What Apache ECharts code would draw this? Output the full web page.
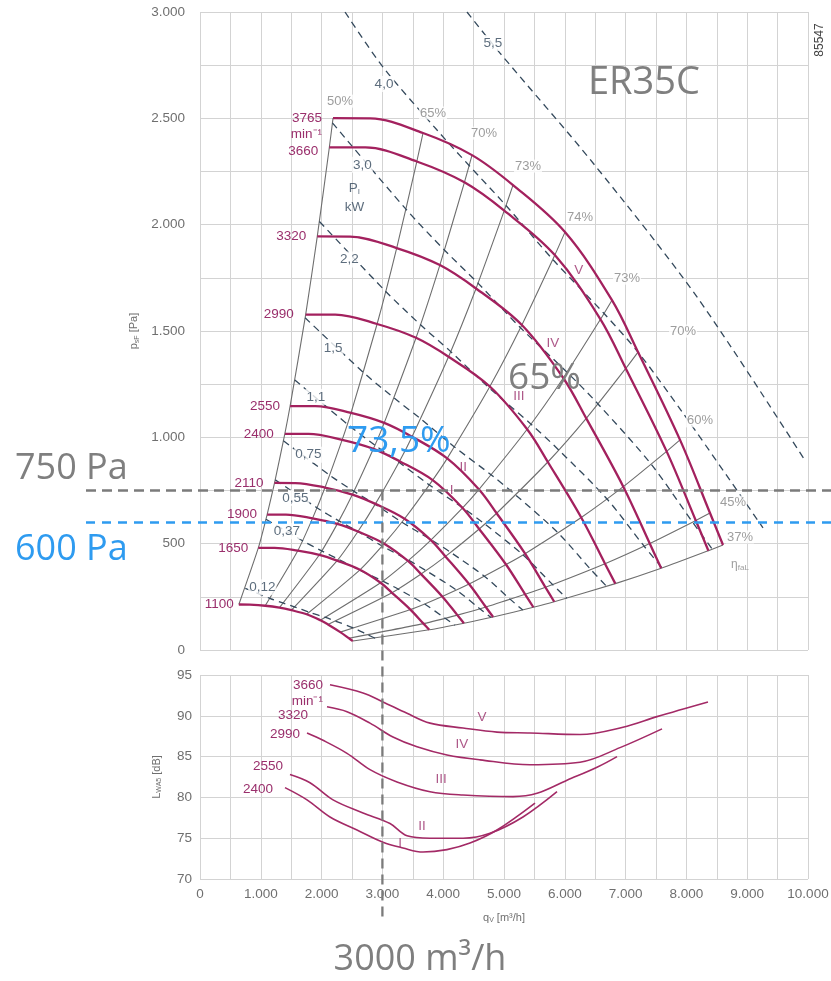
<!DOCTYPE html>
<html>
<head>
<meta charset="utf-8">
<script src="https://cdn.jsdelivr.net/npm/echarts@6/dist/echarts.min.js"></script>
<style>
  html, body { margin: 0; padding: 0; background: #ffffff; }
  #chart { width: 831px; height: 981px; }
</style>
</head>
<body>
<div id="chart"></div>
<script>
// ---- Fan ER35C: pressure/volume characteristic and sound power ----

// Speeds of the pressure curves [min^-1]
const speeds = [3765, 3660, 3320, 2990, 2550, 2400, 2110, 1900, 1650, 1100];

// Static pressure curves [q_V m³/h, p_sF Pa], one array per speed
const psf3765 = [[2188,2501],[2800,2500],[3668,2431],[4474,2327],[5148,2186],[6003,1965],[6776,1645],[7204,1401],[7895,988],[8388,644],[8602,494]];
const psf3660 = [[2127,2363],[2722,2363],[3566,2297],[4349,2199],[5004,2066],[5836,1857],[6587,1555],[7003,1324],[7675,934],[8154,609],[8362,467]];
const psf3320 = [[1929,1945],[2469,1944],[3235,1890],[3945,1810],[4540,1700],[5294,1528],[5975,1279],[6353,1089],[6962,768],[7397,501],[7585,384]];
const psf2990 = [[1738,1577],[2224,1577],[2913,1533],[3553,1468],[4088,1379],[4767,1239],[5381,1038],[5721,884],[6270,623],[6661,406],[6831,312]];
const psf2550 = [[1482,1147],[1896,1147],[2484,1115],[3030,1068],[3487,1003],[4066,901],[4589,755],[4879,643],[5347,453],[5681,295],[5826,227]];
const psf2400 = [[1395,1016],[1785,1016],[2338,988],[2852,946],[3282,888],[3827,799],[4319,668],[4592,569],[5033,402],[5347,262],[5483,201]];
const psf2110 = [[1226,786],[1569,785],[2056,764],[2507,731],[2885,687],[3364,617],[3797,517],[4037,440],[4425,310],[4701,202],[4821,155]];
const psf1900 = [[1104,637],[1413,637],[1851,619],[2258,593],[2598,557],[3029,500],[3420,419],[3636,357],[3984,252],[4233,164],[4341,126]];
const psf1650 = [[959,480],[1227,480],[1608,467],[1961,447],[2256,420],[2631,377],[2970,316],[3157,269],[3460,190],[3676,124],[3770,95]];
const psf1100 = [[639,214],[818,213],[1072,208],[1307,199],[1504,187],[1754,168],[1980,140],[2105,120],[2307,84],[2451,55],[2513,42]];
const pressureCurves = [psf3765, psf3660, psf3320, psf2990, psf2550, psf2400, psf2110, psf1900, psf1650, psf1100];

// Efficiency lines join the same operating point on every speed curve
const effLabels = ['50%', '65%', '70%', '73%', '74%', '73%', '70%', '60%', '45%', '37%'];
const effPointIndex = [0, 2, 3, 4, 5, 6, 7, 8, 9, 10];

// Lines of constant input power P_I [kW]
const pw550 = [[4391,3000],[4934,2807],[6464,2290],[8174,1660],[9967,884]];
const pw400 = [[2385,3000],[3010,2741],[3898,2445],[4426,2278],[5033,2090],[5803,1836],[6646,1582],[7204,1401],[7944,1114],[9260,574]];
const pw300 = [[2178,2479],[3387,2073],[4022,1880],[4572,1725],[5272,1515],[6037,1306],[6546,1157],[7422,873],[8101,601],[8427,474]];
const pw220 = [[1964,2015],[3055,1686],[3627,1529],[4124,1403],[4754,1233],[5445,1062],[5902,940],[6694,710],[7305,488],[7601,386]];
const pw150 = [[1729,1562],[2688,1305],[3192,1185],[3629,1087],[4184,955],[4792,823],[5195,728],[5891,550],[6429,378],[6689,299]];
const pw110 = [[1559,1270],[2424,1062],[2879,963],[3273,883],[3773,776],[4321,669],[4685,592],[5313,447],[5798,308],[6032,243]];
const pw075 = [[1372,984],[2133,822],[2534,746],[2881,685],[3321,601],[3803,518],[4124,459],[4676,347],[5103,238],[5309,188]];
const pw055 = [[1238,800],[1924,669],[2285,607],[2598,557],[2995,489],[3431,422],[3719,373],[4217,282],[4602,194],[4788,153]];
const pw037 = [[1085,615],[1686,514],[2002,466],[2276,427],[2625,376],[3006,324],[3258,287],[3695,216],[4032,149],[4195,117]];
const pw012 = [[745,290],[1158,242],[1375,220],[1564,202],[1803,177],[2065,153],[2238,135],[2538,102],[2770,70],[2883,55]];
const powerLabels = ['5,5', '4,0', '3,0', '2,2', '1,5', '1,1', '0,75', '0,55', '0,37', '0,12'];
const powerLines = [pw550, pw400, pw300, pw220, pw150, pw110, pw075, pw055, pw037, pw012];

// Installation curves I..V
const romanSpeeds = [3660, 3320, 2990, 2550, 2400];
const romanLabels = ['V', 'IV', 'III', 'II', 'I'];

// Sound power level L_WA5 [q_V m³/h, dB]
const lwa3660 = [[2138,93.8],[2681,92.8],[3010,91.7],[3405,90.3],[3783,89.1],[4326,88.5],[4885,88.0],[5428,87.9],[6250,87.7],[6957,88.6],[7516,89.9],[8355,91.7]];
const lwa3320 = [[2089,91.1],[2418,90.5],[2796,89.1],[3174,87.4],[3569,86.2],[4062,85.2],[4605,84.6],[5428,84.0],[6250,84.3],[6908,86.1],[7599,88.4]];
const lwa2990 = [[1760,87.9],[2023,87.0],[2418,85.4],[2796,83.4],[3240,81.9],[3783,80.7],[4326,80.3],[5148,80.1],[5543,80.5],[6036,82.1],[6530,83.7],[6859,85.0]];
const lwa2550 = [[1480,82.8],[1809,81.8],[2188,79.7],[2681,78.1],[3125,76.8],[3405,75.3],[3783,75.0],[4326,75.0],[4770,75.6],[5312,77.6],[5872,80.7]];
const lwa2400 = [[1398,81.2],[1760,79.7],[2138,77.6],[2582,76.0],[3010,74.5],[3339,73.8],[3668,73.3],[4062,73.6],[4441,74.4],[4885,76.0],[5510,79.3]];
const soundCurves = [lwa3660, lwa3320, lwa2990, lwa2550, lwa2400];

// Tick values
const xTicks = [0, 1000, 2000, 3000, 4000, 5000, 6000, 7000, 8000, 9000, 10000];
const pTicks = [0, 500, 1000, 1500, 2000, 2500, 3000];
const lTicks = [70, 75, 80, 85, 90, 95];

// Marked operating point
const dutyFlow = 3000;
const dutyPressures = [750, 600];
const dutyEfficiency = '73,5%';
const curveEfficiency = '65%';
const fanType = 'ER35C';
const drawingNo = '85547';

// ---------------------------------------------------------------
const MAGENTA = '#a3215e';
const MAGENTA_TXT = '#9a2f6c';
const GREY_LINE = '#6e6e6e';
const POWER = '#34495c';
const SANS = '"Liberation Sans", Arial, sans-serif';
const BIG = '"Open Sans", sans-serif';

const fmt = v => v < 1000 ? String(v) : Math.floor(v / 1000) + '.' + String(v % 1000).padStart(3, '0');

const series = [];

// constant efficiency lines
effPointIndex.forEach((idx, k) => {
  series.push({
    type: 'line', xAxisIndex: 0, yAxisIndex: 0, silent: true,
    data: pressureCurves.map(c => c[idx]),
    symbol: 'none', smooth: 0.2,
    lineStyle: { color: GREY_LINE, width: 1.1 }, z: 2
  });
});

// constant power lines
powerLines.forEach(pl => {
  series.push({
    type: 'line', xAxisIndex: 0, yAxisIndex: 0, silent: true,
    data: pl, symbol: 'none', smooth: 0.3,
    lineStyle: { color: POWER, width: 1.3, type: [7, 5] }, z: 3
  });
});

// pressure curves
const speedLabelDist = [11, 11, 11, 12, 10, 11, 11, 10, 10, 5];
pressureCurves.forEach((c, i) => {
  const first = speeds[i] === 3765;
  series.push({
    type: 'line', xAxisIndex: 0, yAxisIndex: 0, silent: true,
    data: c.map((pt, j) => j === 0 ? {
      value: pt,
      label: {
        show: true, position: 'left', distance: speedLabelDist[i],
        formatter: first ? speeds[i] + '\nmin⁻¹' : String(speeds[i]),
        offset: first ? [0, 8] : (speeds[i] === 3660 ? [0, 4] : [0, 0]),
        align: 'right', lineHeight: 16,
        color: MAGENTA_TXT, fontFamily: SANS, fontSize: 13.5
      }
    } : pt),
    symbol: 'circle', symbolSize: 0, showSymbol: true,
    smooth: 0.35,
    lineStyle: { color: MAGENTA, width: 2.3 }, z: 5
  });
});

// text annotations of the upper chart (anchored on the curves, shifted in px)
const effLabelOffset = [[7,-17],[10,-20],[12,-22],[15,-19],[15,-15],[15,-22],[45,-21],[20,-19],[23,-11],[17,-8]];
const powerLabelOffset = [[26,31],[39,72],[30,42],[30,38],[28,30],[21,17],[25,14],[20,18],[21,12],[17,-1]];
const romanOffset = [[24,15],[31,18],[29,10],[16,9],[19,10]];

const annot = [];
effPointIndex.forEach((idx, k) => {
  annot.push({ value: psf3765[idx], label: {
    formatter: effLabels[k], offset: effLabelOffset[k], color: '#858585', fontSize: 13,
    backgroundColor: '#ffffff', padding: [0, 1] } });
});
annot.push({ value: psf3765[10], label: {
  formatter: '{e|η}{s|faL}', offset: [17, 20], color: '#858585', fontSize: 12,
  rich: { e: { fontSize: 12, color: '#858585', fontFamily: SANS }, s: { fontSize: 8, color: '#858585', fontFamily: SANS, padding: [6, 0, 0, 0] } } } });
powerLines.forEach((pl, k) => {
  annot.push({ value: pl[0], label: {
    formatter: powerLabels[k], offset: powerLabelOffset[k], color: POWER, fontSize: 13.5,
    backgroundColor: '#ffffff', padding: [1, 1] } });
});
annot.push({ value: pw300[0], label: { formatter: '{p|P}{s|I}', offset: [22, 65], color: POWER,
  rich: { p: { fontSize: 13.5, color: POWER, fontFamily: SANS }, s: { fontSize: 8, color: POWER, fontFamily: SANS, padding: [7, 0, 0, 0] } } } });
annot.push({ value: pw300[0], label: { formatter: 'kW', offset: [22, 84], color: POWER, fontSize: 13.5 } });
romanSpeeds.forEach((s, k) => {
  const c = pressureCurves[speeds.indexOf(s)];
  annot.push({ value: c[5], label: { formatter: romanLabels[k], offset: romanOffset[k], color: MAGENTA_TXT, fontSize: 13.5 } });
});

series.push({
  type: 'scatter', xAxisIndex: 0, yAxisIndex: 0, silent: true,
  symbolSize: 0, data: annot, z: 8,
  label: { show: true, position: 'inside', align: 'center', verticalAlign: 'middle', fontFamily: SANS }
});

// sound power curves
const soundLabelOffset = [[0, 8], [-12, 8], [0, 1], [0, -8], [-5, 2]];
const soundRomanAnchor = [6, 5, 5, 6, 5];
const soundRomanOffset = [[-15,-15],[15,-11],[11,-12],[-8,-12],[-3,-5]];
soundCurves.forEach((c, i) => {
  series.push({
    type: 'line', xAxisIndex: 1, yAxisIndex: 1, silent: true,
    data: c.map((pt, j) => j === 0 ? {
      value: pt,
      label: {
        show: true, position: 'left', distance: 7,
        formatter: i === 0 ? romanSpeeds[i] + '\nmin⁻¹' : String(romanSpeeds[i]),
        offset: soundLabelOffset[i], align: 'right', lineHeight: 16,
        color: MAGENTA_TXT, fontFamily: SANS, fontSize: 13.5
      }
    } : pt),
    symbol: 'circle', symbolSize: 0, showSymbol: true,
    smooth: 0.35,
    lineStyle: { color: '#a32a66', width: 1.6 }, z: 5
  });
});
series.push({
  type: 'scatter', xAxisIndex: 1, yAxisIndex: 1, silent: true, symbolSize: 0, z: 8,
  data: soundCurves.map((c, i) => ({ value: c[soundRomanAnchor[i]], label: { formatter: romanLabels[i], offset: soundRomanOffset[i] } })),
  label: { show: true, position: 'inside', align: 'center', verticalAlign: 'middle', fontFamily: SANS, fontSize: 13.5, color: MAGENTA_TXT }
});

const axisCommon = {
  type: 'value',
  axisLine: { show: false }, axisTick: { show: false },
  splitLine: { lineStyle: { color: '#d3d3d3', width: 1 } }
};
const tickStyle = { color: '#6f6f6f', fontFamily: SANS, fontSize: 13.5 };
const nameStyle = { color: '#6f6f6f', fontFamily: SANS, fontSize: 11 };

const option = {
  animation: false,
  backgroundColor: '#ffffff',
  grid: [
    { left: 200, right: 23, top: 12, height: 638, outerBoundsMode: 'none', containLabel: false },
    { left: 200, right: 23, top: 675, height: 204, outerBoundsMode: 'none', containLabel: false }
  ],
  xAxis: [
    Object.assign({}, axisCommon, { gridIndex: 0, min: 0, max: 10000, interval: 500, axisLabel: { show: false } }),
    Object.assign({}, axisCommon, { gridIndex: 1, min: 0, max: 10000, interval: 500,
      axisLabel: Object.assign({ margin: 8, formatter: v => xTicks.includes(v) ? fmt(v) : '' }, tickStyle),
      name: '{q|q}{s|V} [m³/h]', nameLocation: 'middle', nameGap: 33,
      nameTextStyle: Object.assign({ rich: { q: { fontSize: 11, color: '#6f6f6f' }, s: { fontSize: 7, color: '#6f6f6f', padding: [5, 0, 0, 0] } } }, nameStyle) })
  ],
  yAxis: [
    Object.assign({}, axisCommon, { gridIndex: 0, min: 0, max: 3000, interval: 250,
      axisLabel: Object.assign({ margin: 15, formatter: v => pTicks.includes(v) ? fmt(v) : '' }, tickStyle),
      name: '{p|p}{s|sF} [Pa]', nameLocation: 'middle', nameGap: 55, nameRotate: 90,
      nameTextStyle: Object.assign({ rich: { p: { fontSize: 11, color: '#6f6f6f' }, s: { fontSize: 7, color: '#6f6f6f', padding: [5, 0, 0, 0] } } }, nameStyle) }),
    Object.assign({}, axisCommon, { gridIndex: 1, min: 70, max: 95, interval: 5,
      axisLabel: Object.assign({ margin: 8, formatter: v => lTicks.includes(v) ? String(v) : '' }, tickStyle),
      name: '{l|L}{s|WA5} [dB]', nameLocation: 'middle', nameGap: 37, nameRotate: 90,
      nameTextStyle: Object.assign({ rich: { l: { fontSize: 11, color: '#6f6f6f' }, s: { fontSize: 7, color: '#6f6f6f', padding: [5, 0, 0, 0] } } }, nameStyle) })
  ],
  series: series
};

const chart = echarts.init(document.getElementById('chart'), null, { renderer: 'canvas' });
chart.setOption(option);

// duty point guide lines and headline texts
const yHigh = chart.convertToPixel({ xAxisIndex: 0, yAxisIndex: 0 }, [0, dutyPressures[0]])[1];
const yLow = chart.convertToPixel({ xAxisIndex: 0, yAxisIndex: 0 }, [0, dutyPressures[1]])[1];
const xDuty = chart.convertToPixel({ xAxisIndex: 0, yAxisIndex: 0 }, [dutyFlow, 0])[0];
const GREY_TXT = '#7f7f7f';
const BLUE = '#2e9bf0';

chart.setOption({
  graphic: [
    { type: 'line', z: 100, silent: true, shape: { x1: 86, y1: yHigh, x2: 831, y2: yHigh },
      style: { stroke: '#7b7b7b', lineWidth: 2.5, lineDash: [10, 6] } },
    { type: 'line', z: 100, silent: true, shape: { x1: 86, y1: yLow, x2: 831, y2: yLow },
      style: { stroke: BLUE, lineWidth: 2.5, lineDash: [9, 7] } },
    { type: 'line', z: 100, silent: true, shape: { x1: xDuty, y1: yHigh, x2: xDuty, y2: 921 },
      style: { stroke: '#7b7b7b', lineWidth: 2.3, lineDash: [10, 6] } },
    { type: 'text', z: 101, silent: true, x: 15, y: yHigh - 22,
      style: { text: dutyPressures[0] + ' Pa', fill: GREY_TXT, font: '36px ' + BIG, verticalAlign: 'middle' } },
    { type: 'text', z: 101, silent: true, x: 15, y: yLow + 27,
      style: { text: dutyPressures[1] + ' Pa', fill: BLUE, font: '36px ' + BIG, verticalAlign: 'middle' } },
    { type: 'text', z: 101, silent: true, x: 347, y: 441,
      style: { text: dutyEfficiency, fill: BLUE, font: '37px ' + BIG, verticalAlign: 'middle' } },
    { type: 'text', z: 101, silent: true, x: 508, y: 378,
      style: { text: curveEfficiency, fill: GREY_TXT, font: '37px ' + BIG, verticalAlign: 'middle' } },
    { type: 'text', z: 101, silent: true, x: 588, y: 83,
      style: { text: fanType, fill: GREY_TXT, font: '38px ' + BIG, verticalAlign: 'middle' } },
    { type: 'text', z: 101, silent: true, x: 420, y: 960,
      style: { text: dutyFlow + ' m³/h', fill: GREY_TXT, font: '36px ' + BIG, align: 'center', verticalAlign: 'middle' } },
    { type: 'text', z: 101, silent: true, x: 820, y: 40, rotation: Math.PI / 2,
      style: { text: drawingNo, fill: '#444444', font: '12px ' + SANS, align: 'center', verticalAlign: 'middle' } }
  ]
});
</script>
</body>
</html>
